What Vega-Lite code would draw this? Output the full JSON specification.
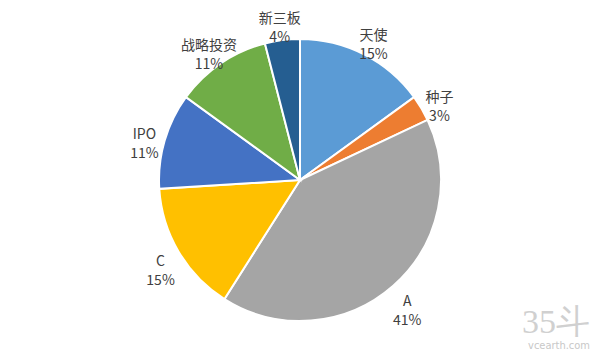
{
  "$schema": "https://vega.github.io/schema/vega-lite/v6.json",
  "width": 600,
  "height": 360,
  "autosize": "none",
  "padding": 0,
  "background": "white",
  "title": {
    "text": "35斗",
    "subtitle": "vcearth.com",
    "orient": "bottom",
    "anchor": "end",
    "offset": -54,
    "dx": -10,
    "font": "Liberation Sans Narrow",
    "fontSize": 34,
    "fontWeight": "normal",
    "color": "#d0d0d0",
    "subtitleFont": "DejaVu Sans Condensed",
    "subtitleFontSize": 11,
    "subtitleColor": "#c8c8c8",
    "subtitlePadding": 0
  },
  "data": {
    "values": [
      {"idx": 1, "name": "天使", "value": 15},
      {"idx": 2, "name": "种子", "value": 3},
      {"idx": 3, "name": "A", "value": 41},
      {"idx": 4, "name": "C", "value": 15},
      {"idx": 5, "name": "IPO", "value": 11},
      {"idx": 6, "name": "战略投资", "value": 11},
      {"idx": 7, "name": "新三板", "value": 4}
    ]
  },
  "transform": [
    {"calculate": "[datum.name, datum.value + '%']", "as": "label"}
  ],
  "encoding": {
    "theta": {"field": "value", "type": "quantitative", "stack": true},
    "order": {"field": "idx", "type": "quantitative"}
  },
  "layer": [
    {
      "mark": {"type": "arc", "outerRadius": 141, "stroke": "white", "strokeWidth": 2},
      "encoding": {
        "color": {
          "field": "name",
          "type": "nominal",
          "scale": {
            "domain": ["天使", "种子", "A", "C", "IPO", "战略投资", "新三板"],
            "range": ["#5B9BD5", "#ED7D31", "#A5A5A5", "#FFC000", "#4472C4", "#70AD47", "#255E91"]
          },
          "legend": null
        }
      }
    },
    {
      "mark": {"type": "text", "radius": 162, "font": "Noto Sans CJK SC", "fontSize": 14, "color": "#404040", "lineHeight": 19, "baseline": "middle", "align": "center"},
      "encoding": {
        "text": {"field": "label"}
      }
    }
  ]
}
